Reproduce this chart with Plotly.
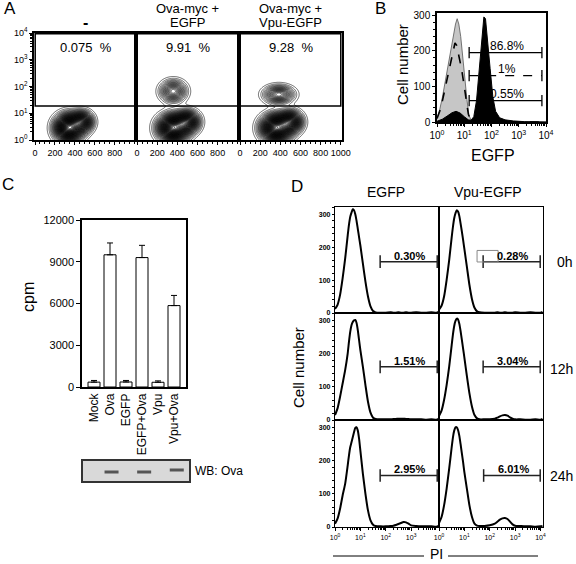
import numpy as np
import plotly.graph_objects as go

W, H = 576, 564
FONT = "Liberation Sans, Arial, Helvetica, sans-serif"


def px(x):
    return x / W


def py(y):
    return 1 - y / H


# ---------------------------------------------------------------- data
# Panel A (flow cytometry contour plots)
a_top_labels = ["", "Ova-myc +", "Ova-myc +"]
a_sub_labels = ["<b>-</b>", "EGFP", "Vpu-EGFP"]
a_percents = ["0.075  %", "9.91  %", "9.28  %"]
a_gate_x = [2, 1000]
a_gate_y = [18.6, 9400]
# cell populations: panel, centre x, centre log10 y, spreads, weight
a_pop_panel = [0, 0, 1, 1, 1, 2, 2, 2]
a_pop_cx = [340, 470, 360, 500, 360, 360, 500, 385]
a_pop_cy = [0.45, 0.68, 0.45, 0.68, 1.82, 0.45, 0.68, 1.7]
a_pop_sx = [78, 62, 84, 66, 72, 84, 66, 84]
a_pop_sy = [0.28, 0.22, 0.28, 0.23, 0.23, 0.28, 0.23, 0.19]
a_pop_w = [1.0, 0.55, 1.0, 0.6, 0.36, 1.0, 0.6, 0.36]

# Panel B (EGFP histograms)
b_gray_x = [0.0, 0.1, 0.2, 0.3, 0.4, 0.5, 0.6, 0.68, 0.74, 0.8, 0.87, 0.93, 1.0, 1.1, 1.17, 1.25, 1.35, 1.6, 4.0]
b_gray_y = [10, 35, 70, 115, 160, 205, 245, 275, 290, 275, 240, 200, 140, 62, 20, 5, 1, 0, 0]
b_dash_x = [0.0, 0.1, 0.2, 0.3, 0.4, 0.5, 0.6, 0.66, 0.72, 0.8, 0.9, 1.0, 1.08, 1.15, 1.22, 1.3, 1.5, 2.0, 4.0]
b_dash_y = [10, 30, 60, 95, 130, 170, 205, 222, 215, 190, 150, 100, 55, 22, 8, 3, 1, 0, 0]
b_black_x = [0.0, 0.2, 0.4, 0.55, 0.7, 0.85, 1.0, 1.15, 1.25, 1.35, 1.45, 1.55, 1.65, 1.72, 1.78, 1.85, 1.95, 2.05, 2.15, 2.3, 2.5, 2.8, 3.2, 4.0]
b_black_y = [2, 8, 18, 26, 30, 25, 15, 6, 5, 15, 60, 150, 250, 295, 290, 240, 150, 70, 30, 12, 6, 3, 1, 0]
b_gate_labels = ["86.8%", "1%", "0.55%"]
b_gate_y = [195, 130, 60]
b_gate_lo = [1.18, 1.18, 1.18]
b_gate_hi = [3.85, 3.85, 3.85]
b_gate_dash = ["solid", "dash", "solid"]

# Panel C (cpm bars)
c_cats = ["Mock", "Ova", "EGFP", "EGFP+Ova", "Vpu", "Vpu+Ova"]
c_vals = [350, 9500, 360, 9300, 340, 5850]
c_err = [120, 850, 110, 880, 100, 730]
c_yticks = [0, 3000, 6000, 9000, 12000]
wb_lanes = ["Ova", "EGFP+Ova", "Vpu+Ova"]
wb_pos = [0.45, 0.45, 0.55]

# Panel D (PI histograms)
d_x = [0.0, 0.1, 0.2, 0.3, 0.4, 0.5, 0.55, 0.6, 0.65, 0.7, 0.75, 0.8, 0.85, 0.9, 0.95, 1.0,
       1.1, 1.2, 1.3, 1.4, 1.5, 1.6, 1.8, 2.0, 2.2, 2.3, 2.4, 2.5, 2.6, 2.7, 2.8, 2.9, 3.0,
       3.2, 3.4, 3.6, 3.8, 4.0, 4.08]
d_egfp_0h = [12, 25, 55, 105, 165, 235, 268, 292, 305, 315, 312, 300, 280, 255, 230, 205,
             150, 95, 50, 20, 6, 2, 1, 1, 2, 1, 1, 2, 1, 1, 2, 1, 1, 2, 1, 1, 2, 1, 3]
d_vpu_0h = [10, 22, 50, 100, 160, 230, 262, 288, 303, 312, 308, 295, 272, 248, 222, 195,
            140, 85, 42, 16, 5, 2, 1, 1, 1, 2, 1, 1, 2, 1, 1, 1, 2, 1, 1, 2, 1, 1, 3]
d_egfp_12h = [15, 35, 70, 110, 150, 200, 235, 265, 285, 295, 300, 301, 292, 270, 240, 210,
              160, 105, 55, 22, 7, 3, 2, 2, 2, 3, 3, 4, 4, 4, 3, 3, 2, 2, 2, 1, 2, 1, 3]
d_vpu_12h = [12, 28, 60, 105, 160, 225, 258, 283, 298, 305, 303, 290, 268, 242, 215, 188,
             132, 80, 40, 15, 5, 2, 2, 2, 4, 7, 11, 14, 15, 13, 8, 4, 2, 2, 1, 1, 2, 1, 3]
d_egfp_24h = [10, 25, 55, 95, 130, 185, 215, 240, 255, 270, 285, 298, 300, 290, 265, 230,
              160, 100, 50, 20, 7, 3, 2, 2, 3, 4, 6, 9, 12, 15, 14, 10, 5, 3, 2, 2, 2, 1, 3]
d_vpu_24h = [12, 30, 65, 115, 175, 240, 270, 290, 300, 300, 292, 275, 250, 222, 195, 165,
             115, 65, 30, 10, 4, 3, 3, 5, 10, 16, 22, 26, 27, 24, 16, 8, 4, 3, 2, 2, 1, 2, 3]
d_series = [d_egfp_0h, d_vpu_0h, d_egfp_12h, d_vpu_12h, d_egfp_24h, d_vpu_24h]
d_cols = ["EGFP", "Vpu-EGFP"]
d_rows = ["0h", "12h", "24h"]
d_gate_labels = ["0.30%", "0.28%", "1.51%", "3.04%", "2.95%", "6.01%"]
d_gate_y = [156, 156, 160, 160, 155, 155]
d_gate_lo = [1.78, 1.74, 1.78, 1.74, 1.78, 1.76]
d_gate_hi = [4.03, 3.99, 4.03, 3.99, 4.03, 3.99]

# ---------------------------------------------------------------- figure
fig = go.Figure()
layout = dict(template="none", width=W, height=H, margin=dict(l=0, r=0, t=0, b=0, pad=0),
              paper_bgcolor="white", plot_bgcolor="white", showlegend=False,
              font=dict(family=FONT, color="black", size=10))
annotations = []
shapes = []


def sup_labels(vals):
    return ["10<sup>%d</sup>" % int(round(np.log10(v))) for v in vals]


def base_axis(dom, **kw):
    d = dict(domain=dom, automargin=False, showgrid=False, zeroline=False, showline=True,
             mirror=True, linecolor="black", linewidth=1.5, ticks="outside", tickcolor="black",
             ticklen=3, tickwidth=1, fixedrange=True)
    d.update(kw)
    return d


def ann(x, y, text, size, **kw):
    d = dict(x=px(x), y=py(y), xref="paper", yref="paper", text=text, showarrow=False,
             xanchor="center", yanchor="middle",
             font=dict(size=size, family=FONT, color="black"))
    d.update(kw)
    annotations.append(d)


log_minor = [m * 10 ** k for k in range(0, 4) for m in range(2, 10)]

# ---- Panel A
a_xdom = [(34, 136), (136, 239), (239, 342)]
grid_x = np.linspace(-30, 1050, 220)
grid_ylog = np.linspace(-0.3, 4.0, 280)
GX, GY = np.meshgrid(grid_x, grid_ylog)
for p in range(3):
    Z = np.zeros_like(GX)
    for k in range(len(a_pop_panel)):
        if a_pop_panel[k] == p:
            Z += a_pop_w[k] * np.exp(-0.5 * ((GX - a_pop_cx[k]) / a_pop_sx[k]) ** 2
                                     - 0.5 * ((GY - a_pop_cy[k]) / a_pop_sy[k]) ** 2)
    n = "" if p == 0 else str(p + 1)
    fig.add_trace(go.Contour(x=grid_x, y=10 ** grid_ylog, z=Z, xaxis="x" + n, yaxis="y" + n,
                             showscale=False, hoverinfo="skip",
                             contours=dict(start=0.02, end=1.8, size=0.018, coloring="none"),
                             line=dict(color="black", width=0.6, smoothing=1)))
    xv = [0, 200, 400, 600, 800] + ([1000] if p == 2 else [])
    layout["xaxis" + n] = base_axis([px(a_xdom[p][0]), px(a_xdom[p][1])], range=[-10, 1012],
                                    tickvals=xv, ticktext=[str(v) for v in xv],
                                    tickfont=dict(size=9), anchor="y" + n,
                                    minor=dict(dtick=50, ticklen=2, ticks="outside", tickcolor="black"))
    yvals = [1, 10, 100, 1000, 10000]
    ykw = dict(type="log", range=[0, 4.0], anchor="x" + n)
    if p == 0:
        ykw.update(tickvals=yvals, ticktext=sup_labels(yvals), tickfont=dict(size=9),
                   minor=dict(tickvals=log_minor, ticklen=2, ticks="outside", tickcolor="black"))
    else:
        ykw.update(showticklabels=False, ticks="")
    layout["yaxis" + n] = base_axis([py(140), py(33)], **ykw)
    shapes.append(dict(type="rect", xref="x" + n, yref="y" + n, x0=a_gate_x[0], x1=a_gate_x[1],
                       y0=a_gate_y[0], y1=a_gate_y[1], line=dict(color="black", width=1.5)))
    cx = (a_xdom[p][0] + a_xdom[p][1]) / 2
    if a_top_labels[p]:
        ann(cx, 8, a_top_labels[p], 13)
    ann(cx, 22, a_sub_labels[p], 13 if p else 16)
    ann(cx + 1, 47, a_percents[p], 13)
ann(10, 9, "A", 17)

# ---- Panel B
fig.add_trace(go.Scatter(x=[10 ** v for v in b_gray_x], y=b_gray_y, xaxis="x4", yaxis="y4",
                         mode="lines", fill="tozeroy", fillcolor="#c6c6c6",
                         line=dict(color="#555", width=0.8), hoverinfo="skip"))
fig.add_trace(go.Scatter(x=[10 ** v for v in b_black_x], y=b_black_y, xaxis="x4", yaxis="y4",
                         mode="lines", fill="tozeroy", fillcolor="black",
                         line=dict(color="black", width=1), hoverinfo="skip"))
fig.add_trace(go.Scatter(x=[10 ** v for v in b_dash_x], y=b_dash_y, xaxis="x4", yaxis="y4",
                         mode="lines", line=dict(color="black", width=1.6, dash="dash"),
                         hoverinfo="skip"))
for i in range(3):
    fig.add_trace(go.Scatter(x=[10 ** b_gate_lo[i], 10 ** b_gate_hi[i]], y=[b_gate_y[i]] * 2,
                             xaxis="x4", yaxis="y4", mode="lines+markers",
                             line=dict(color="black", width=1.3, dash=b_gate_dash[i]),
                             marker=dict(symbol="line-ns", size=8, line=dict(width=1.3, color="black")),
                             hoverinfo="skip"))
    annotations.append(dict(x=(b_gate_lo[i] + b_gate_hi[i]) / 2 + 0.05, y=b_gate_y[i], xref="x4", yref="y4",
                            text=b_gate_labels[i], showarrow=False, xanchor="center",
                            yanchor="bottom", yshift=-2, font=dict(size=12, family=FONT)))
bx = [1, 10, 100, 1000, 10000]
layout["xaxis4"] = base_axis([px(437), px(546)], type="log", range=[0, 4.0], anchor="y4",
                             tickvals=bx, ticktext=sup_labels(bx), tickfont=dict(size=10),
                             minor=dict(tickvals=log_minor, ticklen=2, ticks="outside", tickcolor="black"))
layout["yaxis4"] = base_axis([py(122), py(13)], range=[0, 306], anchor="x4",
                             tickvals=[0, 100, 200, 300], ticktext=["0", "100", "200", "300"],
                             tickfont=dict(size=10),
                             minor=dict(dtick=20, ticklen=2, ticks="outside", tickcolor="black"))
ann(380, 9, "B", 17)
ann(402, 65, "Cell number", 15, textangle=-90)
ann(493, 155, "EGFP", 16)

# ---- Panel C
fig.add_trace(go.Bar(x=c_cats, y=c_vals, xaxis="x5", yaxis="y5", width=0.75,
                     marker=dict(color="white", line=dict(color="black", width=1)),
                     error_y=dict(type="data", array=c_err, arrayminus=[0] * len(c_err),
                                  symmetric=False, color="black", thickness=1, width=3),
                     hoverinfo="skip"))
layout["xaxis5"] = base_axis([px(82), px(186)], type="category", categoryorder="array",
                             categoryarray=c_cats, range=[-0.75, 5.75], anchor="y5",
                             ticks="", tickangle=-90, tickfont=dict(size=12))
layout["yaxis5"] = base_axis([py(387), py(220)], range=[0, 12000], anchor="x5",
                             tickvals=c_yticks, ticktext=[str(v) for v in c_yticks],
                             tickfont=dict(size=11), ticklen=4)
ann(8, 184, "C", 17)
ann(28, 297, "cpm", 16, textangle=-90)

# western blot strip
fig.add_trace(go.Scatter(x=wb_lanes, y=wb_pos, xaxis="x6", yaxis="y6", mode="markers",
                         marker=dict(symbol="line-ew", size=10, line=dict(width=3, color="#555")),
                         hoverinfo="skip"))
layout["xaxis6"] = base_axis([px(83), px(189)], type="category", categoryorder="array",
                             categoryarray=c_cats, range=[-0.75, 5.75], anchor="y6",
                             ticks="", showticklabels=False, linecolor="#333")
layout["yaxis6"] = base_axis([py(481), py(461)], range=[0, 1], anchor="x6", ticks="",
                             showticklabels=False, linecolor="#333")
shapes.append(dict(type="rect", xref="x6 domain", yref="y6 domain", x0=0, x1=1, y0=0, y1=1,
                   fillcolor="#d9d9d9", line=dict(width=0), layer="below"))
ann(193, 471, "WB: Ova", 12, xanchor="left")

# ---- Panel D
d_xdom = [(335, 439), (439, 543)]
d_ydom = [(207, 313), (313, 420), (420, 527)]
for i in range(6):
    r, c = i // 2, i % 2
    n = str(7 + i)
    fig.add_trace(go.Scatter(x=[10 ** v for v in d_x], y=d_series[i], xaxis="x" + n, yaxis="y" + n,
                             mode="lines", line=dict(color="black", width=2, shape="spline", smoothing=0.6),
                             hoverinfo="skip"))
    fig.add_trace(go.Scatter(x=[10 ** d_gate_lo[i], 10 ** d_gate_hi[i]], y=[d_gate_y[i]] * 2,
                             xaxis="x" + n, yaxis="y" + n, mode="lines+markers",
                             line=dict(color="#222", width=1.5),
                             marker=dict(symbol="line-ns", size=9, line=dict(width=1.5, color="#222")),
                             hoverinfo="skip"))
    annotations.append(dict(x=(d_gate_lo[i] + d_gate_hi[i]) / 2 + 0.05, y=d_gate_y[i],
                            xref="x" + n, yref="y" + n, text="<b>%s</b>" % d_gate_labels[i],
                            showarrow=False, xanchor="center", yanchor="bottom", yshift=-2,
                            font=dict(size=11, family=FONT)))
    xkw = dict(type="log", range=[0, 4.1], anchor="y" + n)
    if r == 2:
        xv = [1, 10, 100, 1000] if c == 0 else [1, 10, 100, 1000, 10000]
        xkw.update(tickvals=xv, ticktext=sup_labels(xv), tickfont=dict(size=7),
                   minor=dict(tickvals=log_minor, ticklen=2, ticks="outside", tickcolor="black"))
    else:
        xkw.update(showticklabels=False, ticks="")
    layout["xaxis" + n] = base_axis([px(d_xdom[c][0]), px(d_xdom[c][1])], linewidth=1.3, **xkw)
    ykw = dict(range=[0, 322], anchor="x" + n)
    if c == 0:
        ykw.update(tickvals=[0, 100, 200, 300], ticktext=["<b>0</b>", "<b>100</b>", "<b>200</b>", "<b>300</b>"],
                   tickfont=dict(size=7), ticklen=2,
                   minor=dict(dtick=20, ticklen=1.5, ticks="outside", tickcolor="black"))
    else:
        ykw.update(showticklabels=False, ticks="")
    layout["yaxis" + n] = base_axis([py(d_ydom[r][1]), py(d_ydom[r][0])], linewidth=1.3, **ykw)

shapes.append(dict(type="rect", xref="x8", yref="y8", x0=10 ** 1.5, x1=10 ** 2.33, y0=155, y1=190,
                   line=dict(color="#888", width=1)))
ann(297, 186, "D", 17)
ann(386, 192, "EGFP", 14)
ann(488, 192, "Vpu-EGFP", 14)
ann(298, 368, "Cell number", 15, textangle=-90)
for r, lab in enumerate(d_rows):
    ann(575, (d_ydom[r][0] + d_ydom[r][1]) / 2 + 2, lab, 14, xanchor="right")
ann(436, 554, "PI", 14)
for (x0, x1) in [(333, 424), (448, 538)]:
    shapes.append(dict(type="line", xref="paper", yref="paper", x0=px(x0), x1=px(x1),
                       y0=py(556), y1=py(556), line=dict(color="black", width=1)))

layout["annotations"] = annotations
layout["shapes"] = shapes
fig.update_layout(**layout)
fig.write_html("out.html", config={"displayModeBar": False},
               post_script="document.body.style.margin='0px';document.body.style.overflow='hidden';")
